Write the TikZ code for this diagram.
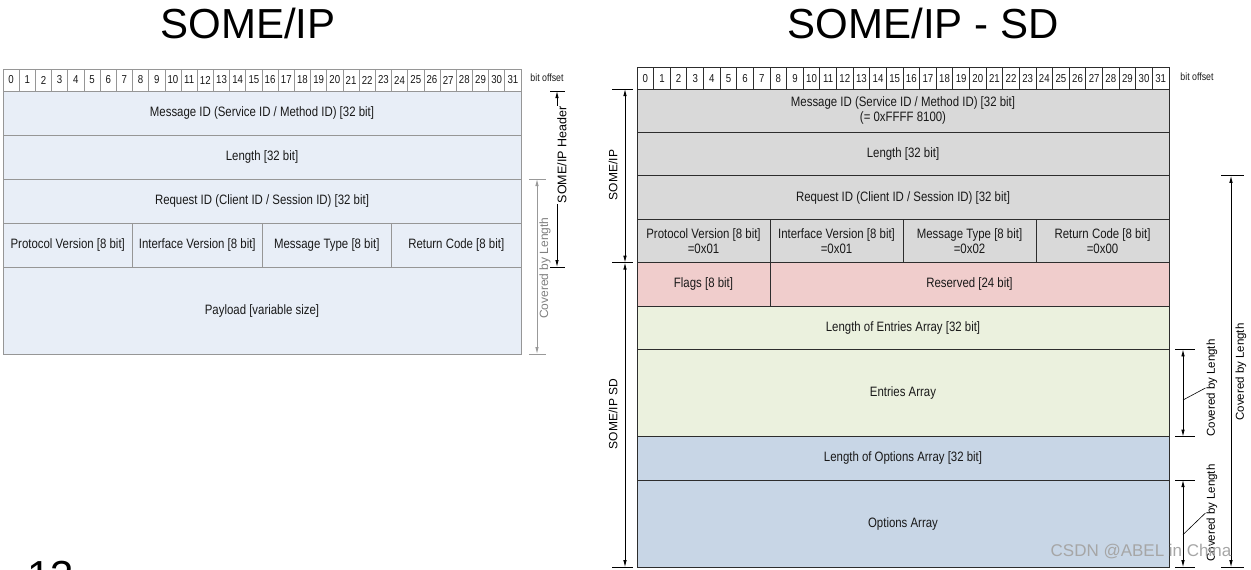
\documentclass[tikz,border=0pt]{standalone}
\usepackage{fontspec}
\setmainfont{Liberation Sans}
\newfontfamily\narrowfont[FakeStretch=0.84]{Liberation Sans}
\usetikzlibrary{positioning,arrows.meta}
\definecolor{leftfill}{RGB}{232,238,247}
\definecolor{leftline}{RGB}{150,150,150}
\definecolor{hdrfill}{RGB}{217,217,217}
\definecolor{flagfill}{RGB}{240,205,204}
\definecolor{entryfill}{RGB}{235,241,222}
\definecolor{optfill}{RGB}{200,214,230}
\definecolor{rightline}{RGB}{45,45,45}
\definecolor{txt}{RGB}{25,25,25}
\begin{document}
\begin{tikzpicture}[x=1pt, y=-1pt,
		cell/.style = {draw, outer sep=0pt, inner sep=1pt, align=center, text=txt, font=\narrowfont\fontsize{13.6}{15.5}\selectfont},
		lcell/.style = {cell, draw=leftline, fill=leftfill, line width=0.9pt},
		rcell/.style = {cell, draw=rightline, line width=0.9pt},
		bit/.style = {draw, outer sep=0pt, inner sep=0pt, fill=white, text=txt, font=\narrowfont\fontsize{11.5}{12}\selectfont},
		dim/.style = {{Latex[length=7pt,width=3.5pt]}-{Latex[length=7pt,width=3.5pt]}, line width=0.8pt},
		vlbl/.style = {rotate=90, inner sep=1pt, font=\fontsize{11.5}{13}\selectfont},
		small/.style = {font=\narrowfont\fontsize{10.5}{12}\selectfont, text=txt},
		title/.style = {font=\fontsize{42}{50}\selectfont, anchor=base}]
		\useasboundingbox (0,0) rectangle (1251,570);
		\clip (0,0) rectangle (1251,570);
		\node[title] (ltitle) at (248,38) {SOME/IP};
		\node[title] (rtitle) at (923,38) {SOME/IP - SD};
		\node[title, anchor=base west] (pagenum) at (24,590) {13};
		\foreach \i in {0,...,31}
			\node[bit, draw=leftline, line width=0.7pt, minimum width=16.1875, minimum height=22, anchor=north west] (lb\i) at (3+\i*16.1875,69) {\i};
		\node[small] (loff) at (547,78) {bit offset};
		\node[lcell, minimum width=518, minimum height=44, anchor=north west] (lmsg) at (3,91) {Message ID (Service ID / Method ID) [32 bit]};
		\node[lcell, minimum width=518, minimum height=44, below=0pt of lmsg] (llen) {Length [32 bit]};
		\node[lcell, minimum width=518, minimum height=44, below=0pt of llen] (lreq) {Request ID (Client ID / Session ID) [32 bit]};
		\node[lcell, minimum width=129.5, minimum height=44, below=0pt of lreq.south west, anchor=north west] (lpv) {Protocol Version [8 bit]};
		\node[lcell, minimum width=129.5, minimum height=44, right=0pt of lpv] (liv) {Interface Version [8 bit]};
		\node[lcell, minimum width=129.5, minimum height=44, right=0pt of liv] (lmt) {Message Type [8 bit]};
		\node[lcell, minimum width=129.5, minimum height=44, right=0pt of lmt] (lrc) {Return Code [8 bit]};
		\node[lcell, minimum width=518, minimum height=87, below=0pt of lpv.south west, anchor=north west] (lpay) {Payload [variable size]};
		\coordinate (hdrtop) at ([xshift=36]lmsg.north east);
		\coordinate (hdrbot) at ([xshift=36]lrc.south east);
		\coordinate (lcovtop) at ([xshift=16]lreq.north east);
		\coordinate (lcovbot) at ([xshift=16]lpay.south east);
		\draw[dim] (hdrtop) -- (hdrbot);
		\draw[line width=0.8pt] (hdrtop) +(-7,0) -- +(8,0);
		\draw[line width=0.8pt] (hdrbot) +(-7,0) -- +(8,0);
		\node[vlbl, fill=white, font=\fontsize{12.5}{14}\selectfont] (hdrlbl) at (562,155) {SOME/IP Header};
		\draw[dim, draw=gray!80, fill=black] (lcovtop) -- (lcovbot);
		\draw[line width=0.8pt, gray!80] (lcovtop) +(-8,0) -- +(9,0);
		\draw[line width=0.8pt, gray!80] (lcovbot) +(-8,0) -- +(9,0);
		\node[vlbl, text=gray, font=\fontsize{12}{14}\selectfont] (lcovlbl) at (545,268) {Covered by Length};
		\foreach \i in {0,...,31}
			\node[bit, draw=rightline, line width=0.8pt, minimum width=16.625, minimum height=21.5, anchor=north west] (rb\i) at (637+\i*16.625,67.5) {\i};
		\node[small] (roff) at (1197,77) {bit offset};
		\node[rcell, fill=hdrfill, minimum width=532, minimum height=43.4, anchor=north west] (rmsg) at (637,89) {Message ID (Service ID / Method ID) [32 bit]\\(= 0xFFFF 8100)};
		\node[rcell, fill=hdrfill, minimum width=532, minimum height=43.4, below=0pt of rmsg] (rlen) {Length [32 bit]};
		\node[rcell, fill=hdrfill, minimum width=532, minimum height=43.4, below=0pt of rlen] (rreq) {Request ID (Client ID / Session ID) [32 bit]};
		\node[rcell, fill=hdrfill, minimum width=133, minimum height=43.4, below=0pt of rreq.south west, anchor=north west] (rpv) {Protocol Version [8 bit]\\=0x01};
		\node[rcell, fill=hdrfill, minimum width=133, minimum height=43.4, right=0pt of rpv] (riv) {Interface Version [8 bit]\\=0x01};
		\node[rcell, fill=hdrfill, minimum width=133, minimum height=43.4, right=0pt of riv] (rmt) {Message Type [8 bit]\\=0x02};
		\node[rcell, fill=hdrfill, minimum width=133, minimum height=43.4, right=0pt of rmt] (rrc) {Return Code [8 bit]\\=0x00};
		\node[rcell, fill=flagfill, minimum width=133, minimum height=43.4, below=0pt of rpv.south west, anchor=north west] (rflg) {Flags [8 bit]};
		\node[rcell, fill=flagfill, minimum width=399, minimum height=43.4, right=0pt of rflg] (rres) {Reserved [24 bit]};
		\node[rcell, fill=entryfill, minimum width=532, minimum height=43.4, below=0pt of rflg.south west, anchor=north west] (relen) {Length of Entries Array [32 bit]};
		\node[rcell, fill=entryfill, minimum width=532, minimum height=87.2, below=0pt of relen] (rent) {Entries Array};
		\node[rcell, fill=optfill, minimum width=532, minimum height=43.4, below=0pt of rent] (rolen) {Length of Options Array [32 bit]};
		\node[rcell, fill=optfill, minimum width=532, minimum height=87.2, below=0pt of rolen] (ropt) {Options Array};
		\coordinate (iptop) at ([xshift=-12]rmsg.north west);
		\coordinate (ipbot) at ([xshift=-12]rpv.south west);
		\coordinate (sdbot) at ([xshift=-12]ropt.south west);
		\draw[dim] (iptop) -- (ipbot);
		\draw[dim] (ipbot) -- (sdbot);
		\draw[line width=0.8pt] (iptop) +(-13,0) -- +(8,0);
		\draw[line width=0.8pt] (ipbot) +(-13,0) -- +(8,0);
		\draw[line width=0.8pt] (sdbot) +(-13,0) -- +(8,0);
		\node[vlbl, font=\fontsize{12}{14}\selectfont] (iplbl) at (613,175) {SOME/IP};
		\node[vlbl, font=\fontsize{12}{14}\selectfont] (sdlbl) at (613,414) {SOME/IP SD};
		\coordinate (enttop) at ([xshift=14]rent.north east);
		\coordinate (entbot) at ([xshift=14]rent.south east);
		\coordinate (entmid) at ([xshift=14,yshift=-7]rent.east);
		\coordinate (opttop) at ([xshift=14]ropt.north east);
		\coordinate (optbot) at ([xshift=14]ropt.south east);
		\coordinate (optmid) at ([xshift=14,yshift=-11]ropt.east);
		\coordinate (alltop) at ([xshift=62]rreq.north east);
		\coordinate (allbot) at ([xshift=62]ropt.south east);
		\draw[dim] (enttop) -- (entbot);
		\draw[line width=0.8pt] (enttop) +(-8,0) -- +(12,0);
		\draw[line width=0.8pt] (entbot) +(-8,0) -- +(12,0);
		\draw[dim] (opttop) -- (optbot);
		\draw[line width=0.8pt] (opttop) +(-8,0) -- +(12,0);
		\draw[line width=0.8pt] (optbot) +(-8,0) -- +(12,0);
		\draw[dim] (alltop) -- (allbot);
		\draw[line width=0.8pt] (alltop) +(-10,0) -- +(13,0);
		\draw[line width=0.8pt] (allbot) +(-10,0) -- +(13,0);
		\node[vlbl] (entlbl) at (1212,388) {Covered by Length};
		\node[vlbl] (optlbl) at (1212,513) {Covered by Length};
		\node[vlbl] (alllbl) at (1241,372) {Covered by Length};
		\draw[line width=0.6pt] (entmid) -- (entlbl.north);
		\draw[line width=0.6pt] (optmid) -- (optlbl.north);
		\node[text=gray!70, font=\fontsize{17}{19}\selectfont] (mark) at (1141,552) {CSDN @ABEL in China};
\end{tikzpicture}
\end{document}
